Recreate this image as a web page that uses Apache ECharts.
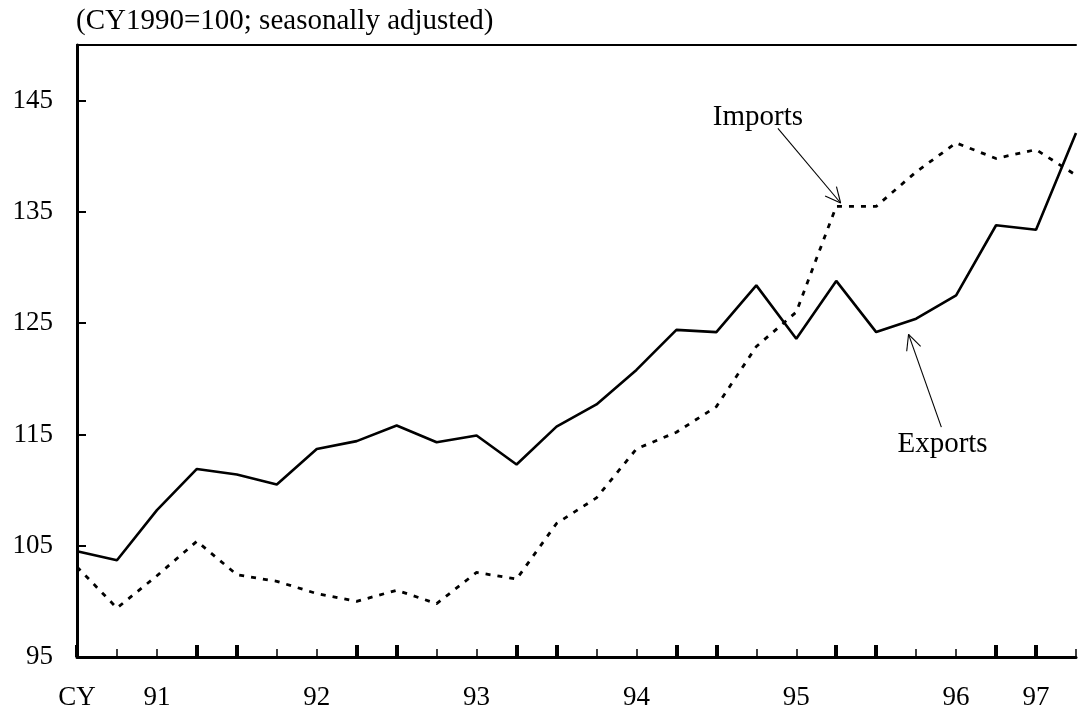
<!DOCTYPE html>
<html><head><meta charset="utf-8">
<script src="https://cdn.jsdelivr.net/npm/echarts@6/dist/echarts.min.js"></script>
<style>html,body{margin:0;padding:0;background:#fff;overflow:hidden}#c{width:1079px;height:711px}</style>
</head><body><div id="c"></div>
<script>
const categories = ['CY','','91','','','','92','','','','93','','','','94','','','','95','','','','96','','97',''];
const exportsData = [104.5,103.7,108.2,111.9,111.4,110.5,113.7,114.4,115.8,114.3,114.9,112.3,115.7,117.7,120.8,124.4,124.2,128.4,123.6,128.8,124.2,125.4,127.5,133.8,133.4,142.1];
const importsData = [103.1,99.4,102.3,105.4,102.4,101.8,100.7,100.0,101.0,99.8,102.6,102.0,107.0,109.3,113.7,115.2,117.5,122.9,126.0,135.5,135.5,138.6,141.2,139.8,140.6,138.3];
const yMin = 95, yMax = 150, yStep = 10;
const titleText = '(CY1990=100; seasonally adjusted)';
const annotations = [
  {text: 'Imports', label: [17.04, 143.5], tail: [17.54, 142.5], tip: [19.11, 135.8]},
  {text: 'Exports', label: [21.66, 114.1], tail: [21.63, 115.66], tip: [20.81, 124.0]}
];

const FONT = '"Liberation Serif","Times New Roman",serif';
const chart = echarts.init(document.getElementById('c'));
const baseX = {
  type: 'category', data: categories, boundaryGap: false, position: 'bottom',
  splitLine: {show: false}
};
chart.setOption({
  animation: false,
  backgroundColor: '#fff',
  title: {text: titleText, left: 76, top: 7, padding: 0,
    textStyle: {fontFamily: FONT, fontSize: 29, fontWeight: 'normal', color: '#000'}},
  grid: {left: 77, width: 1002, top: 45, bottom: 54, containLabel: false},
  xAxis: [
    Object.assign({}, baseX, {
      axisLine: {show: true, lineStyle: {color: '#000', width: 3}},
      axisTick: {show: true, inside: true, length: 8, lineStyle: {color: '#000', width: 1.5},
        interval: function (i) { return i % 4 === 1 || i % 4 === 2; }},
      axisLabel: {show: true, interval: 0, margin: 27, color: '#000', fontFamily: FONT, fontSize: 27}
    }),
    Object.assign({}, baseX, {
      axisLine: {show: false},
      axisTick: {show: true, inside: true, length: 12, lineStyle: {color: '#000', width: 4},
        interval: function (i) { return i % 4 === 0 || i % 4 === 3; }},
      axisLabel: {show: false}
    }),
    Object.assign({}, baseX, {
      position: 'top',
      axisLine: {show: true, lineStyle: {color: '#000', width: 2}},
      axisTick: {show: false}, axisLabel: {show: false}
    })
  ],
  yAxis: {
    type: 'value', min: yMin, max: yMax, interval: yStep,
    axisLine: {show: true, lineStyle: {color: '#000', width: 3}},
    axisTick: {show: true, inside: true, length: 9, lineStyle: {color: '#000', width: 2}},
    axisLabel: {color: '#000', fontFamily: FONT, fontSize: 27, margin: 24, showMaxLabel: false},
    splitLine: {show: false}
  },
  series: [
    {name: 'Exports', type: 'line', data: exportsData, symbol: 'none', xAxisIndex: 0,
      lineStyle: {color: '#000', width: 2.6}},
    {name: 'Imports', type: 'line', data: importsData, symbol: 'none', xAxisIndex: 0,
      lineStyle: {color: '#000', width: 2.8, type: [5, 7]}}
  ]
});

function toPx(p) {
  const i0 = Math.min(Math.floor(p[0]), categories.length - 2);
  const a = chart.convertToPixel({seriesIndex: 0}, [i0, p[1]]);
  const b = chart.convertToPixel({seriesIndex: 0}, [i0 + 1, p[1]]);
  const f = p[0] - i0;
  return [a[0] + (b[0] - a[0]) * f, a[1]];
}
const elements = [];
annotations.forEach(function (an) {
  const t = toPx(an.tail), h = toPx(an.tip), l = toPx(an.label);
  elements.push({type: 'text', x: l[0], y: l[1], style: {text: an.text, fill: '#000',
    font: '29px ' + FONT, align: 'center', verticalAlign: 'middle'}});
  elements.push({type: 'line', shape: {x1: t[0], y1: t[1], x2: h[0], y2: h[1]},
    style: {stroke: '#000', lineWidth: 1.1}});
  const ang = Math.atan2(h[1] - t[1], h[0] - t[0]);
  [0.45, -0.45].forEach(function (d) {
    const a2 = ang + Math.PI + d;
    elements.push({type: 'line', shape: {x1: h[0], y1: h[1],
      x2: h[0] + 17 * Math.cos(a2), y2: h[1] + 17 * Math.sin(a2)},
      style: {stroke: '#000', lineWidth: 1.1}});
  });
});
chart.setOption({graphic: elements});
</script>
</body></html>
